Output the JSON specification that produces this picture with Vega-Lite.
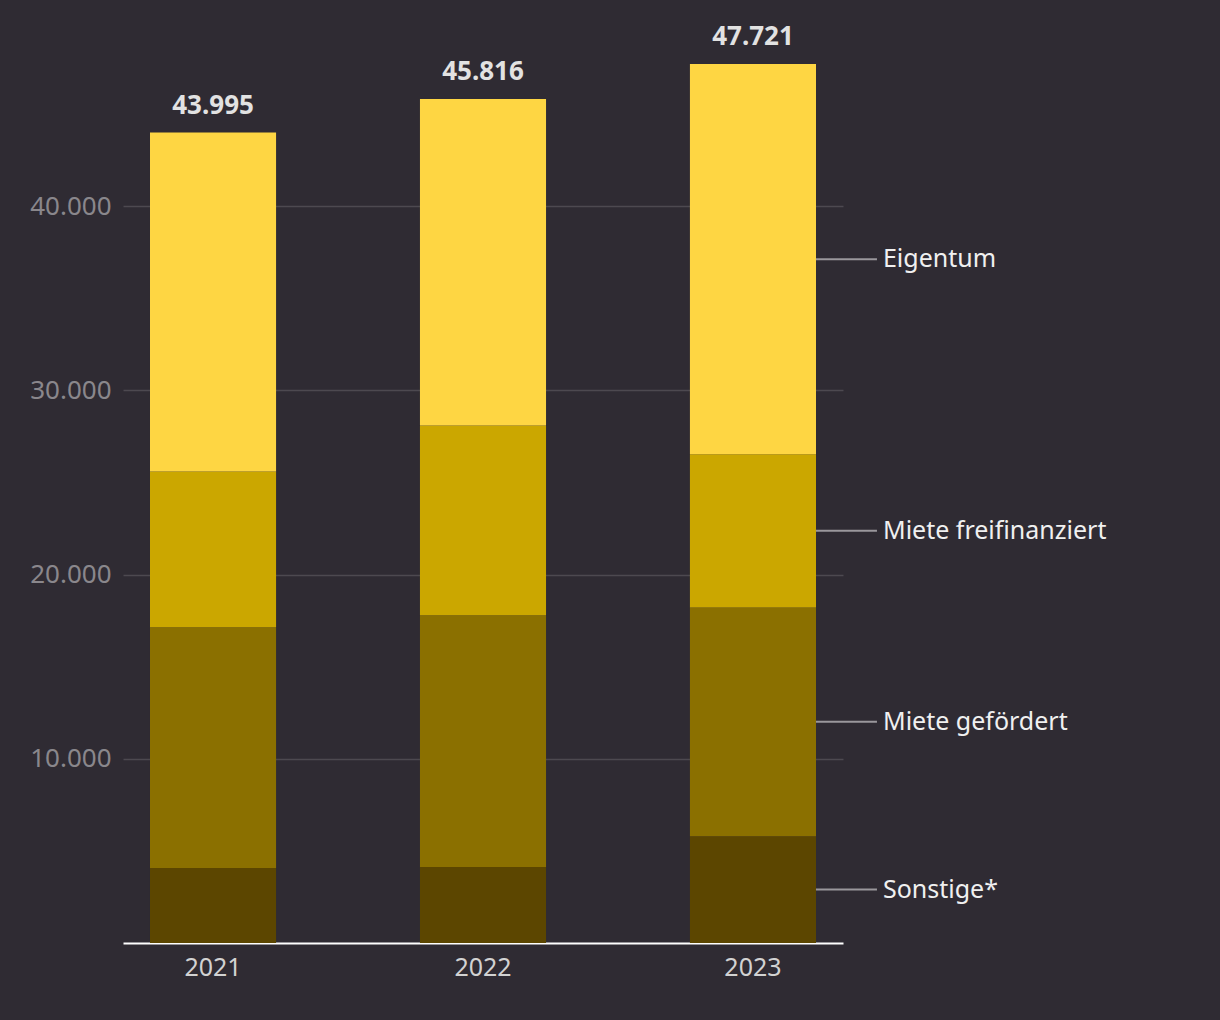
{
  "$schema": "https://vega.github.io/schema/vega-lite/v6.json",
  "width": 720,
  "height": 921,
  "autosize": {"type": "none"},
  "padding": {"left": 123, "top": 22, "right": 377, "bottom": 77},
  "background": "#2F2B33",
  "config": {
    "font": "Noto Sans",
    "view": {"stroke": null},
    "locale": {"number": {"decimal": ",", "thousands": ".", "grouping": [3], "currency": ["", " €"]}}
  },
  "data": {
    "values": [
      {"year": "2021", "type": "Sonstige*", "order": 1, "value": 4070},
      {"year": "2021", "type": "Miete gefördert", "order": 2, "value": 13070},
      {"year": "2021", "type": "Miete freifinanziert", "order": 3, "value": 8460},
      {"year": "2021", "type": "Eigentum", "order": 4, "value": 18395},
      {"year": "2022", "type": "Sonstige*", "order": 1, "value": 4120},
      {"year": "2022", "type": "Miete gefördert", "order": 2, "value": 13670},
      {"year": "2022", "type": "Miete freifinanziert", "order": 3, "value": 10310},
      {"year": "2022", "type": "Eigentum", "order": 4, "value": 17716},
      {"year": "2023", "type": "Sonstige*", "order": 1, "value": 5800},
      {"year": "2023", "type": "Miete gefördert", "order": 2, "value": 12420},
      {"year": "2023", "type": "Miete freifinanziert", "order": 3, "value": 8310},
      {"year": "2023", "type": "Eigentum", "order": 4, "value": 21191}
    ]
  },
  "encoding": {
    "x": {
      "field": "year", "type": "nominal",
      "scale": {"paddingInner": 0.533, "paddingOuter": 0.1},
      "axis": {
        "title": null, "labelAngle": 0, "ticks": false,
        "domainColor": "#ffffff", "domainWidth": 2,
        "labelColor": "#d2d2d2", "labelFontSize": 25, "labelPadding": 12
      }
    }
  },
  "layer": [
    {
      "mark": {"type": "bar"},
      "encoding": {
        "y": {
          "field": "value", "type": "quantitative", "stack": "zero",
          "scale": {"domain": [0, 50000], "nice": false},
          "axis": {
            "title": null, "values": [10000, 20000, 30000, 40000], "format": ",.0f",
            "domain": false, "ticks": false, "labelColor": "#8a878c", "labelFontSize": 26,
            "labelPadding": 12, "gridColor": "#4d4950", "gridWidth": 1.5
          }
        },
        "color": {
          "field": "type", "type": "nominal",
          "scale": {
            "domain": ["Eigentum", "Miete freifinanziert", "Miete gefördert", "Sonstige*"],
            "range": ["#FED643", "#CBA700", "#8B7000", "#5C4600"]
          },
          "legend": null
        },
        "order": {"field": "order", "type": "quantitative"}
      }
    },
    {
      "mark": {"type": "text", "fontWeight": "bold", "fontSize": 26, "color": "#e2e2e2", "baseline": "alphabetic", "dy": -19},
      "encoding": {
        "y": {"aggregate": "sum", "field": "value", "type": "quantitative"},
        "text": {"aggregate": "sum", "field": "value", "type": "quantitative", "format": ",.0f"}
      }
    },
    {
      "transform": [
        {"filter": "datum.year == '2023'"},
        {"stack": "value", "groupby": ["year"], "sort": [{"field": "order", "order": "ascending"}], "as": ["v0", "v1"]},
        {"calculate": "(datum.v0 + datum.v1) / 2", "as": "mid"}
      ],
      "layer": [
        {
          "mark": {"type": "rule", "color": "#9a979c", "strokeWidth": 2, "xOffset": 63, "x2Offset": 124},
          "encoding": {
            "y": {"field": "mid", "type": "quantitative"},
            "x2": {"field": "year"}
          }
        },
        {
          "mark": {"type": "text", "align": "left", "baseline": "middle", "dx": 130, "fontSize": 25, "color": "#f0f0f0"},
          "encoding": {
            "y": {"field": "mid", "type": "quantitative"},
            "text": {"field": "type"}
          }
        }
      ]
    }
  ]
}
